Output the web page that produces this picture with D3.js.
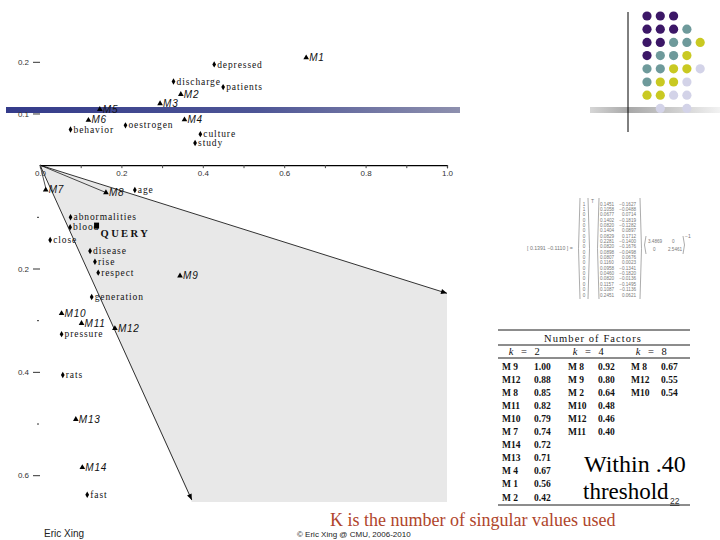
<!DOCTYPE html>
<html><head><meta charset="utf-8">
<script src="https://cdn.jsdelivr.net/npm/d3@7"></script>
<style>body{margin:0;background:#fff}svg{display:block}</style>
</head><body>
<script>
// ---------- data ----------
const termNames = ["depressed","discharge","patients","oestrogen","behavior","culture","study","age",
  "abnormalities","blood","close","disease","rise","respect","generation","pressure","rats","fast"];
const termX = [0.428,0.328,0.450,0.210,0.075,0.394,0.381,0.233,0.075,0.074,0.025,0.123,0.135,0.143,0.127,0.053,0.056,0.116];
const termY = [0.195,0.162,0.151,0.077,0.069,0.060,0.043,-0.048,-0.101,-0.120,-0.145,-0.166,-0.187,-0.208,-0.255,-0.327,-0.406,-0.638];

const docNames = ["M1","M2","M3","M4","M5","M6","M7","M8","M9","M10","M11","M12","M13","M14"];
const docX = [0.654,0.346,0.295,0.355,0.147,0.119,0.014,0.162,0.344,0.053,0.102,0.184,0.088,0.104];
const docY = [0.208,0.137,0.119,0.088,0.108,0.087,-0.048,-0.053,-0.214,-0.287,-0.306,-0.316,-0.492,-0.585];

const queryLabel = "QUERY";
const queryX = 0.139, queryY = -0.117;
const coneX = [1.0, 0.373];
const coneY = [-0.248, -0.648];
const extraRayX = [0.016, 0.162];
const extraRayY = [-0.050, -0.053];

const xTickValues = [0,0.1,0.2,0.3,0.4,0.5,0.6,0.7,0.8,0.9,1.0];
const xTickLabels = ["0.0","","0.2","","0.4","","0.6","","0.8","","1.0"];
const yTickValues = [0.2,0.1,-0.1,-0.2,-0.3,-0.4,-0.5,-0.6];
const yTickLabels = ["0.2","0.1","","0.2","","0.4","","0.6"];

// table
const tableTitle = "Number of Factors";
const kHeaders = ["2","4","8"];
const k2Docs = ["M 9","M12","M 8","M11","M10","M 7","M14","M13","M 4","M 1","M 2"];
const k2Vals = ["1.00","0.88","0.85","0.82","0.79","0.74","0.72","0.71","0.67","0.56","0.42"];
const k4Docs = ["M 8","M 9","M 2","M10","M12","M11"];
const k4Vals = ["0.92","0.80","0.64","0.48","0.46","0.40"];
const k8Docs = ["M 8","M12","M10"];
const k8Vals = ["0.67","0.55","0.54"];

// matrix equation
const qHat = ["0.1391","−0.1110"];
const qVec = ["1","1","0","0","0","0","0","0","0","0","0","0","0","0","0","0","0","0"];
const uCol1 = ["0.1451","0.1058","0.0677","0.1402","0.0820","0.1404","0.0829","0.2281","0.0820","0.0898","0.0807","0.1160","0.0958","0.0460","0.0820","0.1157","0.1087","0.2451"];
const uCol2 = ["−0.1627","−0.0488","0.0714","−0.1819","−0.1282","0.0897","0.1712","−0.1400","−0.1676","−0.0498","0.0676","0.0023","−0.1341","−0.1820","−0.0136","−0.1495","−0.1136","0.0621"];
const sigma = ["3.4869","0","0","2.5461"];

// slide decoration dots
const dotColors = {P:"#3c1767",T:"#6e9a9b",Y:"#c9c922",L:"#d3d3e8"};
const dotRows = ["PPP","PPPT","PPTTY","PTTY","TTYYL","TYYL","YYLL","_L_L"];

// ---------- drawing ----------
const W=720,H=540;
const svg = d3.select("body").append("svg").attr("width",W).attr("height",H);
const defs = svg.append("defs");
const g1 = defs.append("linearGradient").attr("id","blueBar");
g1.append("stop").attr("offset","0%").attr("stop-color","#343b8a");
g1.append("stop").attr("offset","55%").attr("stop-color","#4d5596");
g1.append("stop").attr("offset","100%").attr("stop-color","#8e90ae");
const g2 = defs.append("linearGradient").attr("id","grayBar");
g2.append("stop").attr("offset","0%").attr("stop-color","#d6d6d6");
g2.append("stop").attr("offset","30%").attr("stop-color","#a8a8a8");
g2.append("stop").attr("offset","100%").attr("stop-color","#f2f2f2");

svg.append("rect").attr("x",6).attr("y",107).attr("width",454).attr("height",6).attr("fill","url(#blueBar)");
svg.append("rect").attr("x",590).attr("y",107).attr("width",130).attr("height",6).attr("fill","url(#grayBar)");
svg.append("line").attr("x1",628).attr("x2",628).attr("y1",12).attr("y2",132).attr("stroke","#000").attr("stroke-width",1);

// dots
dotRows.forEach((row,r)=>{
  row.split("").forEach((c,i)=>{
    if(c==="_") return;
    svg.append("circle").attr("cx",647+i*13.3).attr("cy",16+r*13.2).attr("r",4.6).attr("fill",dotColors[c]);
  });
});

// scales
const x = d3.scaleLinear().domain([0,1]).range([40,447]);
const y = d3.scaleLinear().domain([-0.6,0.2]).range([475.2,61.8]);

// cone
const coneEnds = coneX.map((v,i)=>[x(v),y(coneY[i])]);
svg.append("path")
  .attr("d",`M${x(0)},${y(0)}L${coneEnds[0][0]},${coneEnds[0][1]}L${coneEnds[0][0]},${y(-0.652)}L${coneEnds[1][0]},${y(-0.652)}Z`)
  .attr("fill","#e8e8e8");
coneEnds.forEach(e=>{
  svg.append("line").attr("x1",x(0)).attr("y1",y(0)).attr("x2",e[0]).attr("y2",e[1]).attr("stroke","#000").attr("stroke-width",0.8);
});
extraRayX.forEach((v,i)=>{
  svg.append("line").attr("x1",x(0)).attr("y1",y(0)).attr("x2",x(v)).attr("y2",y(extraRayY[i])).attr("stroke","#000").attr("stroke-width",0.7);
});
// arrow tips
coneEnds.forEach(e=>{
  const ang = Math.atan2(e[1]-y(0), e[0]-x(0));
  const L=6,Wd=2.5;
  const bx=e[0]-L*Math.cos(ang), by=e[1]-L*Math.sin(ang);
  svg.append("path").attr("d",`M${e[0]},${e[1]}L${bx-Wd*Math.sin(ang)},${by+Wd*Math.cos(ang)}L${bx+Wd*Math.sin(ang)},${by-Wd*Math.cos(ang)}Z`).attr("fill","#000");
});

// x axis
const xAxis = d3.axisBottom(x).tickValues(xTickValues).tickSize(3).tickFormat((d,i)=>xTickLabels[i]);
const gx = svg.append("g").attr("transform",`translate(0,${y(0)})`).call(xAxis);
gx.select(".domain").attr("stroke","#000").attr("stroke-width",1.2);
gx.selectAll(".tick line").attr("stroke","#444");
gx.selectAll("text").attr("font-family","Liberation Sans, Arial").attr("font-size",8).attr("fill","#333").attr("dy","0.6em");

// y axis
const yAxis = d3.axisLeft(y).tickValues(yTickValues).tickSize(7).tickPadding(4).tickFormat((d,i)=>yTickLabels[i]);
const gy = svg.append("g").attr("transform","translate(40,0)").call(yAxis);
gy.select(".domain").remove();
gy.selectAll(".tick line").attr("stroke","#333").attr("x2",(d,i)=>yTickLabels[i]?-7:-3).attr("x1",(d,i)=>yTickLabels[i]?0:-1);
gy.selectAll("text").attr("font-family","Liberation Sans, Arial").attr("font-size",8).attr("fill","#333");

// terms
const termG = svg.append("g");
termNames.forEach((n,i)=>{
  const px=x(termX[i]), py=y(termY[i]);
  termG.append("path").attr("d",d3.symbol(d3.symbolDiamond,12)()).attr("transform",`translate(${px},${py})`).attr("fill","#000");
  termG.append("text").attr("x",px+3).attr("y",py).attr("dy","0.33em").text(n)
    .attr("font-family","Liberation Serif, Times New Roman").attr("font-size",9.5).attr("letter-spacing",0.9).attr("fill","#111");
});
// docs
docNames.forEach((n,i)=>{
  const px=x(docX[i]), py=y(docY[i]);
  svg.append("path").attr("d",d3.symbol(d3.symbolTriangle,14)()).attr("transform",`translate(${px},${py})`).attr("fill","#000");
  svg.append("text").attr("x",px+3).attr("y",py).attr("dy","0.33em").text(n)
    .attr("font-family","Liberation Sans, Arial").attr("font-style","italic").attr("font-size",10).attr("letter-spacing",0.8).attr("fill","#111");
});
// query
svg.append("rect").attr("x",x(queryX)-2.5).attr("y",y(queryY)-3).attr("width",5).attr("height",6).attr("fill","#000");
svg.append("text").attr("x",x(queryX)+4).attr("y",y(queryY)+11).text(queryLabel)
  .attr("font-family","Liberation Serif, Times New Roman").attr("font-weight","bold").attr("font-size",10.5)
  .attr("letter-spacing",2.4).attr("fill","#111");

// ---------- matrix equation ----------
const mFont = "Liberation Sans, Arial";
const mg = svg.append("g").attr("fill","#777").attr("font-family",mFont).attr("font-size",4.6);
mg.append("text").attr("x",527).attr("y",250).text("[ "+qHat[0]+"   "+qHat[1]+" ] =").attr("font-size",5.2);
const rowY = d3.scaleLinear().domain([0,qVec.length-1]).range([204,295]);
function paren(x0,y0,y1,dir){
  const w=3*dir;
  mg.append("path").attr("d",`M${x0},${y0} Q${x0-w},${(y0+y1)/2} ${x0},${y1}`).attr("fill","none").attr("stroke","#888").attr("stroke-width",0.7);
}
paren(580,198,299,1); paren(588,198,299,-1);
qVec.forEach((v,i)=>mg.append("text").attr("x",584).attr("y",rowY(i)+1.5).attr("text-anchor","middle").text(v));
mg.append("text").attr("x",591).attr("y",203).text("T").attr("font-size",5);
paren(599,198,299,1); paren(640,198,299,-1);
uCol1.forEach((v,i)=>mg.append("text").attr("x",600).attr("y",rowY(i)+1.5).text(v));
uCol2.forEach((v,i)=>mg.append("text").attr("x",636).attr("y",rowY(i)+1.5).attr("text-anchor","end").text(v));
paren(646,236,254,1); paren(683,236,254,-1);
mg.append("text").attr("x",648).attr("y",243).text(sigma[0]);
mg.append("text").attr("x",672).attr("y",243).text(sigma[1]);
mg.append("text").attr("x",653).attr("y",251).text(sigma[2]);
mg.append("text").attr("x",668).attr("y",251).text(sigma[3]);
mg.append("text").attr("x",685).attr("y",238).text("−1").attr("font-size",5);

// ---------- table ----------
const tg = svg.append("g").attr("font-family","Liberation Serif, Times New Roman").attr("font-size",9.5).attr("fill","#111");
[330,345,358,505].forEach(yy=>tg.append("line").attr("x1",498).attr("x2",690).attr("y1",yy).attr("y2",yy).attr("stroke","#000").attr("stroke-width",0.9));
tg.append("text").attr("x",593).attr("y",341.5).attr("text-anchor","middle").text(tableTitle).attr("font-size",10.5).attr("letter-spacing",1.1);
const kx=[524,588,651];
kHeaders.forEach((k,i)=>{
  tg.append("text").attr("x",kx[i]-13).attr("y",355).attr("text-anchor","middle").attr("font-style","italic").attr("font-size",10.5).text("k");
  tg.append("text").attr("x",kx[i]).attr("y",355).attr("text-anchor","middle").attr("font-size",10.5).text("=");
  tg.append("text").attr("x",kx[i]+13).attr("y",355).attr("text-anchor","middle").attr("font-size",10.5).text(k);
});
const rY = d3.scaleLinear().domain([0,10]).range([369.5,500.5]);
const cols=[[k2Docs,k2Vals,502,534],[k4Docs,k4Vals,568,598],[k8Docs,k8Vals,631,661]];
cols.forEach(([ds,vs,xa,xb])=>{
  ds.forEach((d,i)=>{
    tg.append("text").attr("x",xa).attr("y",rY(i)).text(d).attr("font-weight","bold");
    tg.append("text").attr("x",xb).attr("y",rY(i)).text(vs[i]).attr("font-weight","bold");
  });
});

// ---------- slide texts ----------
svg.append("text").attr("x",584).attr("y",472).text("Within .40")
  .attr("font-family","Liberation Serif, Times New Roman").attr("font-size",24).attr("fill","#000");
svg.append("text").attr("x",583).attr("y",499).text("threshold")
  .attr("font-family","Liberation Serif, Times New Roman").attr("font-size",23).attr("fill","#000");
svg.append("text").attr("x",670).attr("y",504).text("22")
  .attr("font-family","Liberation Sans, Arial").attr("font-size",8.5).attr("fill","#333").attr("text-decoration","underline");
svg.append("text").attr("x",330).attr("y",526).text("K is the number of singular values used")
  .attr("font-family","Liberation Serif, Times New Roman").attr("font-size",18).attr("fill","#b0452b");
svg.append("text").attr("x",44).attr("y",537).text("Eric Xing")
  .attr("font-family","Liberation Sans, Arial").attr("font-size",10).attr("fill","#222");
svg.append("text").attr("x",297).attr("y",537).text("© Eric Xing @ CMU, 2006-2010")
  .attr("font-family","Liberation Sans, Arial").attr("font-size",8).attr("fill","#222");
</script>
</body></html>
